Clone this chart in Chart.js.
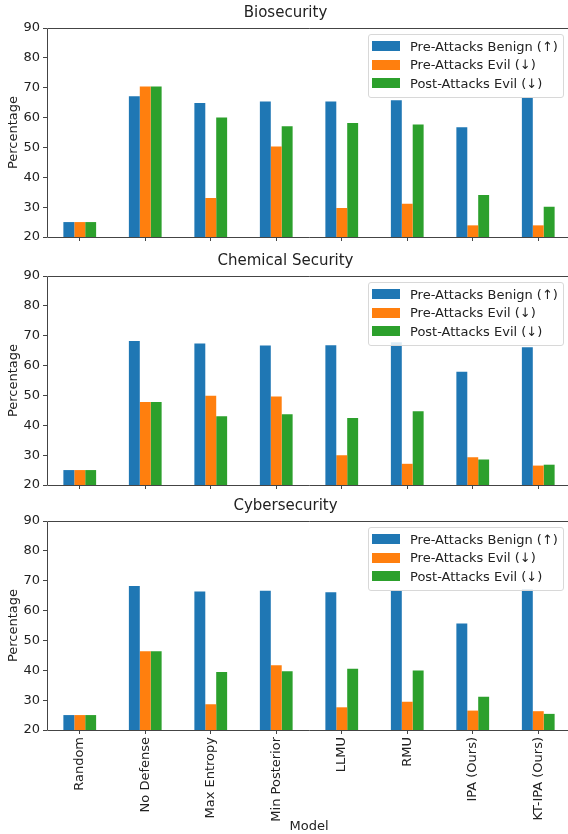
<!DOCTYPE html>
<html>
<head>
<meta charset="utf-8">
<script src="https://cdn.jsdelivr.net/npm/chart.js@4"></script>
<style>
  html, body { margin: 0; padding: 0; background: #fff; overflow: hidden; }
  #wrap { position: relative; width: 568px; height: 834px; overflow: hidden; }
  .panel { position: absolute; left: 0; }
  .legend { position: absolute; left: 368px; width: 194px; padding: 2px 0 4px 0;
            border: 1px solid #d8d8d8; border-radius: 3px; background: rgba(255,255,255,0.85);
            font-family: 'DejaVu Sans', sans-serif; font-size: 13px; color: #222; }
  .legend .row { display: flex; align-items: center; height: 18.5px; white-space: nowrap; }
  .legend .sw { width: 28px; height: 10px; margin: 0 10px 0 3px; flex: none; }
</style>
</head>
<body>
<div id="wrap">
  <div class="panel" style="top:0"><canvas id="c0" width="571" height="250"></canvas></div>
  <div class="panel" style="top:248px"><canvas id="c1" width="571" height="250"></canvas></div>
  <div class="panel" style="top:493px"><canvas id="c2" width="571" height="341"></canvas></div>
</div>
<script>
var models = ['Random', 'No Defense', 'Max Entropy', 'Min Posterior', 'LLMU', 'RMU', 'IPA (Ours)', 'KT-IPA (Ours)'];
var seriesNames = ['Pre-Attacks Benign (\u2191)', 'Pre-Attacks Evil (\u2193)', 'Post-Attacks Evil (\u2193)'];
var seriesColors = ['#1f77b4', '#ff7f0e', '#2ca02c'];
var panelTitles = ['Biosecurity', 'Chemical Security', 'Cybersecurity'];

var bioBenign = [25, 67.1, 64.9, 65.4, 65.4, 65.8, 56.8, 66.7];
var bioEvil   = [25, 70.4, 33.1, 50.3, 29.7, 31.1, 23.9, 23.9];
var bioPost   = [25, 70.4, 60.0, 57.1, 58.2, 57.7, 34.1, 30.1];

var chemBenign = [25, 68.2, 67.4, 66.7, 66.8, 67.8, 57.9, 66.1];
var chemEvil   = [25, 47.8, 49.9, 49.6, 30.0, 27.1, 29.3, 26.5];
var chemPost   = [25, 47.8, 43.0, 43.7, 42.4, 44.7, 28.5, 26.8];

var cyberBenign = [25, 68.2, 66.4, 66.6, 66.1, 66.8, 55.7, 67.1];
var cyberEvil   = [25, 46.4, 28.6, 41.7, 27.6, 29.5, 26.5, 26.3];
var cyberPost   = [25, 46.4, 39.4, 39.7, 40.5, 39.9, 31.1, 25.4];

var yTicks = [20, 30, 40, 50, 60, 70, 80, 90];

var panelData = [
  [bioBenign, bioEvil, bioPost],
  [chemBenign, chemEvil, chemPost],
  [cyberBenign, cyberEvil, cyberPost]
];

var font = 'DejaVu Sans';
var axisColor = '#444';

// spines: left, top, bottom (right one falls outside the picture)
var framePlugin = {
  id: 'frame',
  afterDraw: function(chart) {
    var a = chart.chartArea;
    var ctx = chart.ctx;
    var l = Math.round(a.left) + 0.5, t = Math.round(a.top) + 0.5, b = Math.round(a.bottom) + 0.5;
    ctx.save();
    ctx.strokeStyle = axisColor;
    ctx.lineWidth = 1;
    ctx.beginPath();
    ctx.moveTo(chart.width, t);
    ctx.lineTo(l, t);
    ctx.lineTo(l, b);
    ctx.lineTo(chart.width, b);
    ctx.stroke();
    ctx.restore();
  }
};

function makeLegend(panel, chart) {
  var box = document.createElement('div');
  box.className = 'legend';
  seriesNames.forEach(function(name, i) {
    var row = document.createElement('div');
    row.className = 'row';
    var sw = document.createElement('span');
    sw.className = 'sw';
    sw.style.background = seriesColors[i];
    var tx = document.createElement('span');
    tx.textContent = name;
    row.appendChild(sw);
    row.appendChild(tx);
    box.appendChild(row);
  });
  box.style.top = (chart.chartArea.top + 6) + 'px';
  panel.appendChild(box);
}

panelData.forEach(function(series, p) {
  var isLast = p === panelData.length - 1;
  var canvas = document.getElementById('c' + p);
  var chart = new Chart(canvas, {
    type: 'bar',
    data: {
      labels: models,
      datasets: series.map(function(vals, i) {
        return {
          label: seriesNames[i],
          data: vals,
          backgroundColor: seriesColors[i],
          categoryPercentage: 0.5,
          barPercentage: 1.0
        };
      })
    },
    options: {
      animation: false,
      responsive: false,
      layout: { padding: { left: 0, right: 0, top: 0, bottom: 0 } },
      plugins: {
        legend: { display: false },
        tooltip: { enabled: false },
        title: {
          display: true,
          text: panelTitles[p],
          color: '#222',
          font: { family: font, size: 15, weight: 'normal' },
          padding: { top: 4, bottom: 6 }
        }
      },
      scales: {
        x: {
          type: 'category',
          offset: true,
          border: { display: false },
          grid: { display: true, drawOnChartArea: false, drawTicks: true, tickLength: 4, color: axisColor, offset: false },
          ticks: {
            display: isLast,
            minRotation: 90,
            maxRotation: 90,
            autoSkip: false,
            padding: 3,
            color: '#222',
            font: { family: font, size: 13 }
          },
          title: {
            display: isLast,
            text: 'Model',
            color: '#222',
            font: { family: font, size: 13 },
            padding: { top: 0, bottom: 0 }
          },
          afterFit: function(s) { s.height = isLast ? 104 : 13; }
        },
        y: {
          type: 'linear',
          min: 20,
          max: 90,
          border: { display: false },
          grid: { display: true, drawOnChartArea: false, drawTicks: true, tickLength: 4, color: axisColor },
          afterBuildTicks: function(s) { s.ticks = yTicks.map(function(v) { return { value: v }; }); },
          ticks: {
            padding: 3,
            color: '#222',
            font: { family: font, size: 13 }
          },
          title: {
            display: true,
            text: 'Percentage',
            color: '#222',
            font: { family: font, size: 13 },
            padding: { top: 6, bottom: 0 }
          },
          afterFit: function(s) { s.width = 47; }
        }
      }
    },
    plugins: [framePlugin]
  });
  makeLegend(canvas.parentNode, chart);
});
</script>
</body>
</html>
